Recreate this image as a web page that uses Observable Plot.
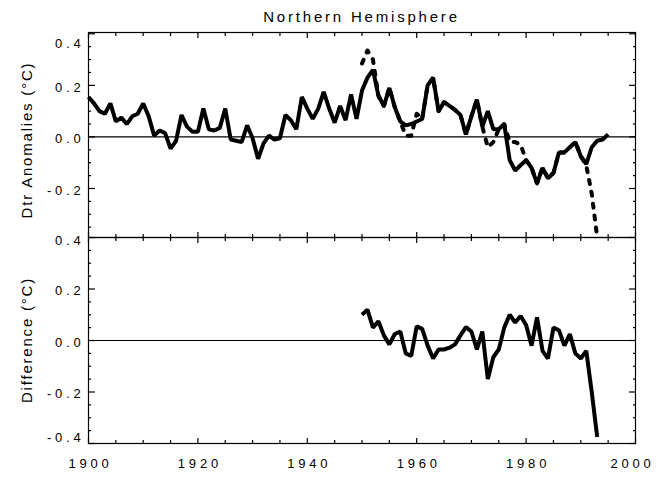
<!DOCTYPE html>
<html><head><meta charset="utf-8">
<script src="https://cdn.jsdelivr.net/npm/d3@7"></script>
<script src="https://cdn.jsdelivr.net/npm/@observablehq/plot@0.6"></script>
<style>
body{margin:0;background:#fff;font-family:"Liberation Sans",Arial,sans-serif;}
#wrap{position:relative;width:656px;height:477px;overflow:hidden;}
#title{position:absolute;top:9px;left:88px;width:547px;text-align:center;font-size:15px;letter-spacing:2.8px;line-height:1;}
.ylab{position:absolute;font-size:15px;letter-spacing:1.8px;line-height:1;white-space:nowrap;transform:translate(-50%,-50%) rotate(-90deg);}
svg{display:block;overflow:visible;}
</style></head><body>
<div id="wrap">
<div id="title">Northern Hemisphere</div>
<div class="ylab" style="left:26px;top:140px;">Dtr Anomalies (°C)</div>
<div class="ylab" style="left:26px;top:340px;">Difference (°C)</div>
<div id="chart"></div>
</div>
<script>
// ---- data ----
const solidYears = d3.range(1900, 1996);
const solidValues = [
 0.155,0.13,0.10,0.09,0.13,0.06,0.075,0.05,0.08,0.09,
 0.13,0.08,0.005,0.025,0.015,-0.045,-0.015,0.085,0.04,0.02,
 0.02,0.11,0.03,0.025,0.035,0.11,-0.01,-0.015,-0.02,0.045,
 -0.005,-0.085,-0.025,0.005,-0.01,-0.005,0.085,0.065,0.03,0.155,
 0.11,0.07,0.11,0.175,0.11,0.055,0.12,0.065,0.165,0.07,
 0.18,0.23,0.26,0.16,0.12,0.19,0.115,0.06,0.045,0.05,
 0.06,0.07,0.2,0.23,0.10,0.135,0.12,0.105,0.085,0.01,
 0.08,0.145,0.04,0.1,0.03,0.03,0.05,-0.09,-0.13,-0.11,
 -0.09,-0.12,-0.18,-0.12,-0.16,-0.14,-0.06,-0.06,-0.04,-0.02,
 -0.075,-0.105,-0.04,-0.015,-0.01,0.01
];
const otherYears = d3.range(1950, 1994);
const dottedValues = [
 0.285,0.335,0.30,0.16,0.12,0.19,0.115,0.06,0.005,0.005,
 0.09,0.07,0.2,0.23,0.10,0.135,0.12,0.105,0.085,0.01,
 0.08,0.145,0.04,-0.04,-0.02,0.03,0.05,-0.02,-0.02,-0.03,
 -0.09,-0.12,-0.18,-0.12,-0.16,-0.14,-0.06,-0.06,-0.04,-0.02,
 -0.075,-0.11,-0.22,-0.39
];
const diffValues = [
 0.10,0.12,0.05,0.075,0.02,-0.015,0.025,0.035,-0.05,-0.06,
 0.055,0.045,-0.02,-0.07,-0.035,-0.035,-0.028,-0.015,0.02,0.052,
 0.035,-0.035,0.035,-0.15,-0.065,-0.035,0.05,0.10,0.07,0.095,
 0.06,-0.02,0.09,-0.04,-0.07,0.05,0.04,-0.02,0.025,-0.05,
 -0.07,-0.04,-0.2,-0.375
];
const xMajor = [1900,1920,1940,1960,1980,2000];
const xMinor = [1905,1910,1915,1925,1930,1935,1945,1950,1955,1965,1970,1975,1985,1990,1995];
const xLabels = [1900,1920,1940,1960,1980];
const xLastLabel = [2000];
const yMajor = [0.4,0.2,0,-0.2,-0.4];
const yMinor = [0.35,0.3,0.25,0.15,0.1,0.05,-0.05,-0.1,-0.15,-0.25,-0.3,-0.35];
const topLabels = [0.2,0,-0.2];
const bottomLabels = [0.2,0,-0.2];

const solid = solidYears.map((y,i)=>({year:y, value:solidValues[i]}));
const dotted = otherYears.map((y,i)=>({year:y, value:dottedValues[i]}));
const diff = otherYears.map((y,i)=>({year:y, value:diffValues[i]}));

const blank = () => "";
const fmt = d => d.toFixed(1);
const font = "Liberation Sans, Arial, sans-serif";

function frameTicks(yMaj, yMin) {
  const o = {tickFormat: blank, label: null, strokeWidth: 1.2};
  return [
    Plot.axisY(yMaj, {...o, anchor:"left", tickSize:7, dx:7}),
    Plot.axisY(yMin, {...o, anchor:"left", tickSize:3, dx:3}),
    Plot.axisY(yMaj, {...o, anchor:"right", tickSize:7, dx:-7}),
    Plot.axisY(yMin, {...o, anchor:"right", tickSize:3, dx:-3}),
    Plot.axisX(xMajor, {...o, anchor:"bottom", tickSize:5, dy:-5}),
    Plot.axisX(xMinor, {...o, anchor:"bottom", tickSize:3, dy:-3}),
    Plot.axisX(xMajor, {...o, anchor:"top", tickSize:5, dy:5}),
    Plot.axisX(xMinor, {...o, anchor:"top", tickSize:3, dy:3})
  ];
}
function yText(vals, dy) {
  return Plot.axisY(vals, {anchor:"left", tickSize:0, tickPadding:4, tickFormat: fmt, label:null, fontSize:13, dy});
}
function xText(vals, dx) {
  return Plot.axisX(vals, {anchor:"bottom", tickSize:0, tickPadding:15, tickFormat: d => String(d), label:null, fontSize:13, dx});
}
const plotStyle = {fontFamily: font, letterSpacing: "3.8px", overflow: "visible", background: "transparent", color: "black"};

const topPanel = Plot.plot({
  width: 656, height: 237,
  marginLeft: 88, marginRight: 21, marginTop: 32, marginBottom: 0,
  style: plotStyle,
  x: {domain: [1900, 2000], label: null},
  y: {domain: [-0.39, 0.405], label: null},
  marks: [
    ...frameTicks(yMajor.filter(d => d > -0.39), yMinor),
    yText(topLabels, 2),
    yText([0.4], 10),
    Plot.ruleY([0], {stroke: "black", strokeWidth: 1.2}),
    Plot.line(dotted, {x: "year", y: "value", stroke: "black", strokeWidth: 4, strokeDasharray: "4,8", clip: true}),
    Plot.line(solid, {x: "year", y: "value", stroke: "black", strokeWidth: 4, strokeLinejoin: "miter", strokeLinecap: "butt"}),
    Plot.frame({stroke: "black", strokeWidth: 1.2})
  ]
});

const bottomPanel = Plot.plot({
  width: 656, height: 240,
  marginLeft: 88, marginRight: 21, marginTop: 0, marginBottom: 34,
  style: plotStyle,
  x: {domain: [1900, 2000], label: null},
  y: {domain: [-0.4, 0.4], label: null},
  marks: [
    ...frameTicks(yMajor, yMinor),
    yText(bottomLabels, 2),
    yText([0.4], 3),
    yText([-0.4], -6),
    xText(xLabels, 2),
    xText(xLastLabel, -3),
    Plot.ruleY([0], {stroke: "black", strokeWidth: 1.2}),
    Plot.line(diff, {x: "year", y: "value", stroke: "black", strokeWidth: 4, strokeLinejoin: "miter", strokeLinecap: "butt"}),
    Plot.frame({stroke: "black", strokeWidth: 1.2})
  ]
});

const chart = document.getElementById("chart");
chart.style.position = "absolute";
chart.style.left = "0px";
chart.style.top = "0px";
chart.appendChild(topPanel);
chart.appendChild(bottomPanel);
</script>
</body></html>
